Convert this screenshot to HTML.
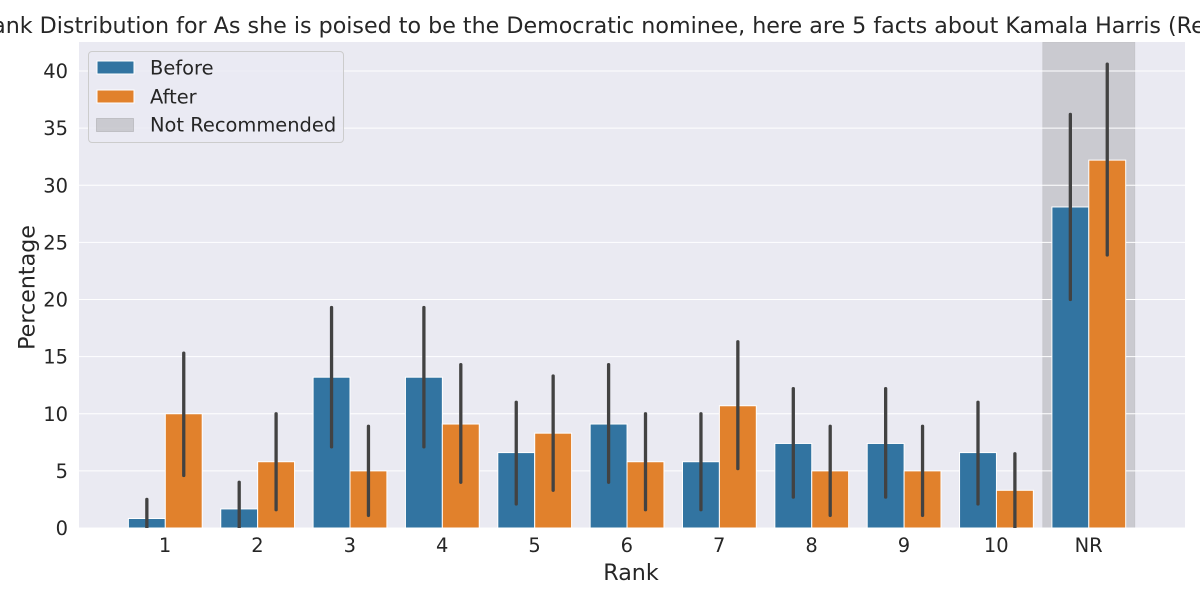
<!DOCTYPE html>
<html lang="en">
<head>
<meta charset="utf-8">
<title>Rank Distribution</title>
<style>
html,body{margin:0;padding:0;background:#fff;width:1200px;height:600px;overflow:hidden}
svg{display:block}
text{font-family:"DejaVu Sans","Liberation Sans",sans-serif;fill:#262626}
</style>
</head>
<body>
<svg id="chart" xmlns="http://www.w3.org/2000/svg" width="1200" height="600" viewBox="0 0 1200 600">
  <defs><clipPath id="plotClip"><rect x="79" y="42" width="1106" height="486"/></clipPath></defs>
  <rect x="79" y="42" width="1106" height="486" fill="#eaeaf2"/>
  <g id="spanLayer" clip-path="url(#plotClip)"></g>
  <g id="gridLayer"></g>
  <g id="barLayer"></g>
  <g id="errLayer" clip-path="url(#plotClip)"></g>
  <g id="tickLayer"></g>
  <text x="642.5" y="33" text-anchor="middle" font-size="22.2">Rank Distribution for As she is poised to be the Democratic nominee, here are 5 facts about Kamala Harris (Republican)</text>
  <text x="631" y="580" text-anchor="middle" font-size="22.2">Rank</text>
  <text transform="translate(34.5,287.5) rotate(-90)" text-anchor="middle" font-size="22.2">Percentage</text>
  <g>
    <rect x="88.5" y="51.5" width="255" height="91" rx="3.5" fill="#eaeaf2" fill-opacity="0.8" stroke="#cccccc"/>
    <rect x="97" y="61" width="37" height="13" fill="#3274a1" stroke="#fff"/>
    <text x="150" y="74.5" font-size="19.44">Before</text>
    <rect x="97" y="90" width="37" height="13" fill="#e1812c" stroke="#fff"/>
    <text x="150" y="103.5" font-size="19.44">After</text>
    <rect x="96.5" y="118.5" width="37" height="13" fill="#808080" fill-opacity="0.3" stroke="#808080" stroke-opacity="0.3"/>
    <text x="150" y="131.5" font-size="19.44">Not Recommended</text>
  </g>
</svg>
<script>
const categories = ['1','2','3','4','5','6','7','8','9','10','NR'];
const yTicks = [0,5,10,15,20,25,30,35,40];
const beforeValues = [0.83,1.67,13.2,13.2,6.6,9.1,5.8,7.4,7.4,6.6,28.1];
const afterValues = [10,5.8,5,9.1,8.3,5.8,10.7,5,5,3.3,32.2];
const beforeLow = [0,0,7.1,7.1,2.1,4,1.6,2.7,2.7,2.1,20];
const beforeHigh = [2.5,4,19.3,19.3,11,14.3,10,12.2,12.2,11,36.2];
const afterLow = [4.6,1.6,1.1,4,3.3,1.6,5.2,1.1,1.1,0,23.9];
const afterHigh = [15.3,10,8.9,14.3,13.3,10,16.3,8.9,8.9,6.5,40.6];

const NS = 'http://www.w3.org/2000/svg';
const plotLeft = 79, plotRight = 1185, plotTop = 42, plotBottom = 528;
function xScale(i){ return 165.3 + i * 92.35; }
function yScale(v){ return plotBottom - v * 11.425; }
function make(tag, parent){
  const el = document.createElementNS(NS, tag);
  parent.appendChild(el);
  return el;
}
const spanLayer = document.getElementById('spanLayer');
const gridLayer = document.getElementById('gridLayer');
const barLayer = document.getElementById('barLayer');
const errLayer = document.getElementById('errLayer');
const tickLayer = document.getElementById('tickLayer');

const nrIndex = categories.indexOf('NR');
const span = make('rect', spanLayer);


span.setAttribute('x', xScale(nrIndex - 0.5));
span.setAttribute('y', plotTop);
span.setAttribute('width', xScale(nrIndex + 0.5) - xScale(nrIndex - 0.5));
span.setAttribute('height', plotBottom - plotTop);
span.setAttribute('fill', '#808080');
span.setAttribute('fill-opacity', '0.3');
span.setAttribute('stroke', '#808080');
span.setAttribute('stroke-opacity', '0.12');

yTicks.forEach(function(t){
  const line = make('line', gridLayer);
  
  
  line.setAttribute('x1', plotLeft);
  line.setAttribute('x2', plotRight);
  line.setAttribute('y1', yScale(t));
  line.setAttribute('y2', yScale(t));
  line.setAttribute('stroke', '#fff');
  line.setAttribute('stroke-width', '1.1');
  const label = make('text', tickLayer);
  
  
  label.setAttribute('x', 68);
  label.setAttribute('y', yScale(t) + 7);
  label.setAttribute('text-anchor', 'end');
  label.setAttribute('font-size', '19.44');
  label.textContent = t;
});

const barW = 36.9;
function drawBar(i, value, offset, color){
  const bar = make('rect', barLayer);
  
  
  bar.setAttribute('x', xScale(i) + offset * barW);
  bar.setAttribute('y', yScale(value));
  bar.setAttribute('width', barW);
  bar.setAttribute('height', plotBottom - yScale(value));
  bar.setAttribute('fill', color);
  bar.setAttribute('stroke', '#fff');
  bar.setAttribute('stroke-width', '1');
}
function drawErr(i, low, high, offset){
  const err = make('line', errLayer);
  
  
  const cx = xScale(i) + offset * barW / 2;
  err.setAttribute('x1', cx);
  err.setAttribute('x2', cx);
  err.setAttribute('y1', yScale(low));
  err.setAttribute('y2', yScale(high));
  err.setAttribute('stroke', '#424242');
  err.setAttribute('stroke-width', '3.3');
  err.setAttribute('stroke-linecap', 'round');
}
categories.forEach(function(c, i){
  drawBar(i, beforeValues[i], -1, '#3274a1');
  drawBar(i, afterValues[i], 0, '#e1812c');
  drawErr(i, beforeLow[i], beforeHigh[i], -1);
  drawErr(i, afterLow[i], afterHigh[i], 1);
  const label = make('text', tickLayer);
  
  
  label.setAttribute('x', xScale(i) - 0.2);
  label.setAttribute('y', 552);
  label.setAttribute('text-anchor', 'middle');
  label.setAttribute('font-size', '19.44');
  label.textContent = c;
});
</script>
</body>
</html>
